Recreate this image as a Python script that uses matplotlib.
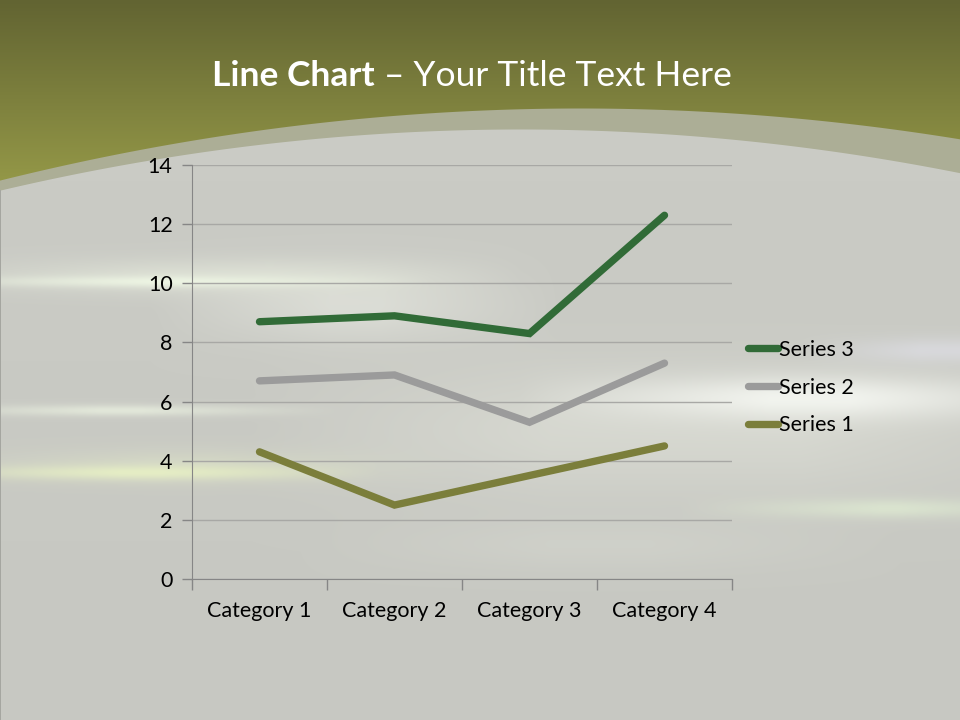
import numpy as np
import matplotlib
matplotlib.use('Agg')
import matplotlib.pyplot as plt

plt.rcParams['font.family'] = ['Lato', 'DejaVu Sans']

# datos del gráfico (línea apilada, como en la plantilla de PowerPoint)
categorias = ['Category 1', 'Category 2', 'Category 3', 'Category 4']
serie1 = [4.3, 2.5, 3.5, 4.5]
serie2 = [2.4, 4.4, 1.8, 2.8]
serie3 = [2.0, 2.0, 3.0, 5.0]
nombres = ['Series 1', 'Series 2', 'Series 3']
colores = ['#7b7e3b', '#9b9b9b', '#316b37']

acumulado = np.cumsum([serie1, serie2, serie3], axis=0)

# ---- fondo de la diapositiva ----
H, W = 720, 960
yy, xx = np.mgrid[0:H, 0:W].astype(float)

oliva_arriba = np.array([98, 100, 50.0])
oliva_abajo = np.array([150, 154, 72.0])
t = np.clip(yy / 190.0, 0, 1)[..., None]
oliva = oliva_arriba * (1 - t) + oliva_abajo * t

banda = np.array([172, 174, 150.0])
gris = np.array([203, 204, 198.0]) - (yy / H * 4)[..., None]

borde_ext = 108 + 2.14e-4 * (xx - 580) ** 2
borde_int = 129 + 2.26e-4 * (xx - 520) ** 2


def franja(img, yc, sy, x0, x1, fade, amp, color):
    env = np.clip((xx - x0) / fade, 0, 1) * np.clip((x1 - xx) / fade, 0, 1)
    w = amp * np.exp(-0.5 * ((yy - yc) / sy) ** 2) * env
    w = w[..., None]
    return img * (1 - w) + np.array(color, float) * w


fondo = gris.copy()
fondo = franja(fondo, 430, 45, 250, 1100, 300, 0.4, (234, 236, 226))
fondo = franja(fondo, 305, 25, 150, 560, 180, 0.5, (236, 238, 230))
fondo = franja(fondo, 276, 12, -100, 520, 250, 0.55, (232, 237, 222))
fondo = franja(fondo, 281, 4, -100, 430, 250, 0.9, (238, 246, 228))
fondo = franja(fondo, 410, 4, -100, 340, 200, 0.7, (236, 243, 226))
fondo = franja(fondo, 466, 12, -100, 460, 250, 0.45, (226, 233, 200))
fondo = franja(fondo, 472, 5, -100, 380, 220, 0.85, (232, 241, 196))
fondo = franja(fondo, 398, 15, 520, 1100, 250, 0.8, (249, 251, 246))
fondo = franja(fondo, 350, 9, 800, 1100, 120, 0.55, (226, 226, 236))
fondo = franja(fondo, 508, 7, 680, 1100, 200, 0.65, (226, 240, 212))
fondo = franja(fondo, 545, 18, 300, 900, 250, 0.25, (225, 228, 218))

a_int = np.clip(yy - borde_int + 0.5, 0, 1)[..., None]
fondo = banda * (1 - a_int) + fondo * a_int
a_ext = np.clip(yy - borde_ext + 0.5, 0, 1)[..., None]
fondo = oliva * (1 - a_ext) + fondo * a_ext
fondo[190:, 0:1] = (165, 166, 160)

fig = plt.figure(figsize=(9.6, 7.2), dpi=100)
ax_bg = fig.add_axes([0, 0, 1, 1])
ax_bg.imshow(np.clip(fondo, 0, 255).astype(np.uint8), extent=[0, W, H, 0], aspect='auto')
ax_bg.axis('off')

# título
fig.text(375 / 960, 1 - 76 / 720, 'Line Chart', color='white', fontsize=25.5,
         fontweight='bold', ha='right', va='center')
fig.text(375 / 960, 1 - 76 / 720, ' – Your Title Text Here', color='white',
         fontsize=25.5, ha='left', va='center')

# ---- gráfico ----
ax = fig.add_axes([192 / 960, 1 - 579 / 720, 540 / 960, 414 / 720])
ax.set_facecolor('none')
x = np.arange(len(categorias))
for i in [2, 1, 0]:
    ax.plot(x, acumulado[i], color=colores[i], lw=5.3, label=nombres[i],
            solid_capstyle='round', solid_joinstyle='miter')

ax.set_xlim(-0.5, len(categorias) - 0.5)
ax.set_ylim(0, 14)
ax.set_yticks(range(0, 15, 2))
ax.set_xticks(x)
ax.set_xticklabels(categorias)
ax.set_xticks(np.arange(-0.5, len(categorias), 1), minor=True)
ax.tick_params(axis='x', which='major', length=0, pad=16, labelsize=15.5)
ax.tick_params(axis='x', which='minor', length=8, color='#868686', width=1)
ax.tick_params(axis='y', length=7, color='#868686', width=1, labelsize=15.5, pad=7)
ax.grid(axis='y', color='#a8a8a5', lw=1)
ax.set_axisbelow(True)
for lado in ['top', 'right']:
    ax.spines[lado].set_visible(False)
for lado in ['left', 'bottom']:
    ax.spines[lado].set_color('#868686')

ax.legend(loc='center left', bbox_to_anchor=(748 / 960, 1 - 387.5 / 720),
          bbox_transform=fig.transFigure, frameon=False, fontsize=15.5,
          handlelength=1.4, handletextpad=0.05, labelspacing=0.82,
          borderaxespad=0, borderpad=0)

fig.savefig('out.png', dpi=100)
